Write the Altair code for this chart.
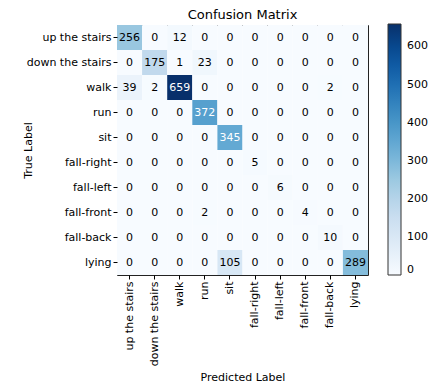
import altair as alt
import pandas as pd
import numpy as np

classes = ["up the stairs", "down the stairs", "walk", "run", "sit",
           "fall-right", "fall-left", "fall-front", "fall-back", "lying"]

row_up = [256, 0, 12, 0, 0, 0, 0, 0, 0, 0]
row_down = [0, 175, 1, 23, 0, 0, 0, 0, 0, 0]
row_walk = [39, 2, 659, 0, 0, 0, 0, 0, 2, 0]
row_run = [0, 0, 0, 372, 0, 0, 0, 0, 0, 0]
row_sit = [0, 0, 0, 0, 345, 0, 0, 0, 0, 0]
row_fright = [0, 0, 0, 0, 0, 5, 0, 0, 0, 0]
row_fleft = [0, 0, 0, 0, 0, 0, 6, 0, 0, 0]
row_ffront = [0, 0, 0, 2, 0, 0, 0, 4, 0, 0]
row_fback = [0, 0, 0, 0, 0, 0, 0, 0, 10, 0]
row_lying = [0, 0, 0, 0, 105, 0, 0, 0, 0, 289]

matrix = [row_up, row_down, row_walk, row_run, row_sit,
          row_fright, row_fleft, row_ffront, row_fback, row_lying]

legend_ticks = [0, 100, 200, 300, 400, 500, 600]

records = []
for i, t in enumerate(classes):
    for j, p in enumerate(classes):
        records.append({"true": t, "pred": p, "count": matrix[i][j]})
df = pd.DataFrame(records)

vmax = max(max(r) for r in matrix)
thresh = vmax / 2.0

blues = ["#f7fbff", "#deebf7", "#c6dbef", "#9ecae1", "#6baed6",
         "#4292c6", "#2171b5", "#08519c", "#08306b"]
dom = list(np.linspace(0, vmax, len(blues)))

FONT = "DejaVu Sans"
W, H = 251, 250

base = alt.Chart(df)

x_enc = alt.X("pred:N", sort=classes, title="Predicted Label",
              scale=alt.Scale(paddingInner=0, paddingOuter=0),
              axis=alt.Axis(labelAngle=270, labelFontSize=11, labelFont=FONT,
                            titleFontSize=11, titleFont=FONT, titleFontWeight="normal",
                            titleColor="black", labelColor="black",
                            tickColor="black", tickSize=4, domain=False,
                            labelPadding=2, titleX=W / 2, titleY=102,
                            titleBaseline="middle", titleAlign="center"))
y_enc = alt.Y("true:N", sort=classes, title="True Label",
              scale=alt.Scale(paddingInner=0, paddingOuter=0),
              axis=alt.Axis(labelFontSize=11, labelFont=FONT,
                            titleFontSize=11, titleFont=FONT, titleFontWeight="normal",
                            titleColor="black", labelColor="black",
                            tickColor="black", tickSize=4, domain=False,
                            labelPadding=2, titleX=-89, titleY=H / 2,
                            titleAngle=270, titleBaseline="middle",
                            titleAlign="center"))

heat = base.mark_rect().encode(
    x=x_enc,
    y=y_enc,
    color=alt.Color("count:Q",
                    scale=alt.Scale(domain=dom, range=blues, interpolate="rgb"),
                    legend=alt.Legend(title=None, orient="none", legendX=271, legendY=-1,
                                      gradientLength=251, gradientThickness=13,
                                      gradientStrokeColor="#333333", gradientStrokeWidth=1,
                                      values=legend_ticks, labelFontSize=11,
                                      labelFont=FONT, labelColor="black",
                                      labelOffset=6)),
)

text = base.mark_text(fontSize=11, font=FONT).encode(
    x=alt.X("pred:N", sort=classes),
    y=alt.Y("true:N", sort=classes),
    text="count:Q",
    color=alt.condition(alt.datum.count > thresh, alt.value("white"), alt.value("black")),
)

chart = (heat + text).properties(
    width=W, height=H,
    title=alt.TitleParams("Confusion Matrix", fontSize=13, font=FONT,
                          fontWeight="normal", color="black", offset=0,
                          baseline="bottom", dy=11),
    autosize=alt.AutoSizeParams(type="none"),
    padding={"left": 109, "top": 17, "right": 62, "bottom": 109},
).configure_view(stroke="#222222", strokeWidth=1)

chart.save("out.html", embed_options={"renderer": "svg", "actions": False})
